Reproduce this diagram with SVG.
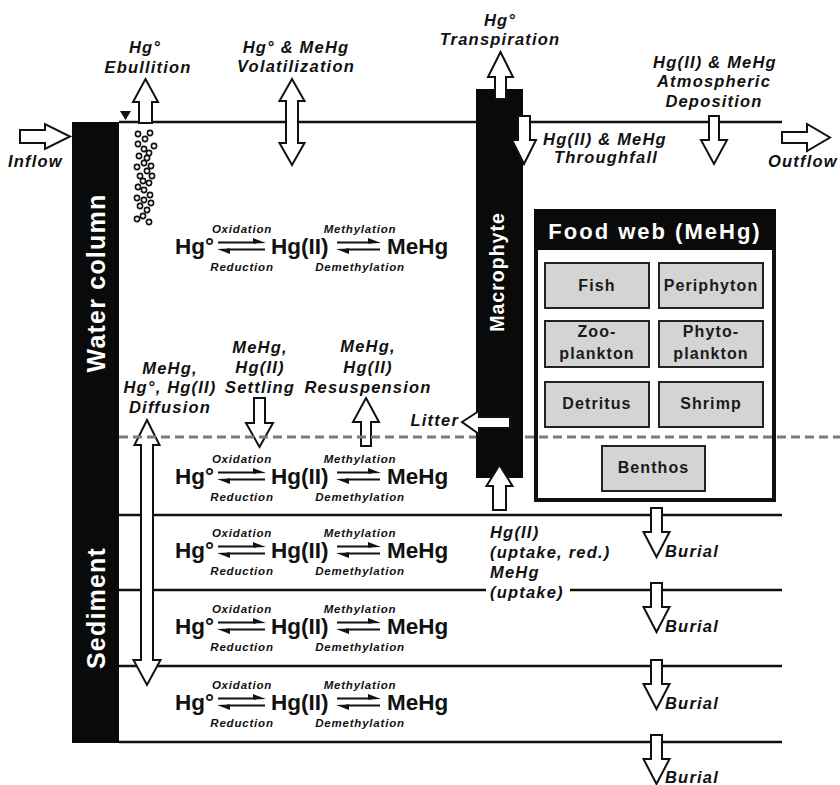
<svg xmlns="http://www.w3.org/2000/svg" width="840" height="785" viewBox="0 0 840 785">
<style>
text{font-family:"Liberation Sans",Arial,sans-serif;font-weight:bold;fill:#111}
.lab{font-style:italic;font-size:16.5px;letter-spacing:1.2px;text-anchor:middle}
.sm{font-style:italic;font-size:11.5px;letter-spacing:0.8px;text-anchor:middle}
.hg{font-size:22.5px}
.fw{font-size:16px;letter-spacing:1.1px;text-anchor:middle;fill:#1a1a1a}
.bar{fill:#0a0a0a}
.ln{stroke:#111;stroke-width:2.5;fill:none}
.ar{fill:#fff;stroke:#111;stroke-width:2;stroke-linejoin:miter}
.bub{fill:#fff;stroke:#111;stroke-width:1.6}
.rx{stroke:#111;stroke-width:2}
.hd{fill:#111}
.box{fill:#d4d4d4;stroke:#222;stroke-width:2}
</style>
<defs>
<g id="rxn">
<text class="hg" x="175" y="0">Hg°</text>
<text class="hg" x="271" y="0">Hg(II)</text>
<text class="hg" x="387" y="0">MeHg</text>
<text class="sm" x="242" y="-21">Oxidation</text>
<text class="sm" x="242" y="17">Reduction</text>
<text class="sm" x="360" y="-21">Methylation</text>
<text class="sm" x="360" y="17">Demethylation</text>
<line class="rx" x1="218" y1="-11.5" x2="256" y2="-11.5"/>
<path class="hd" d="M266,-11 L253,-16 L253,-10.5 Z"/>
<line class="rx" x1="227" y1="-4.5" x2="265" y2="-4.5"/>
<path class="hd" d="M217,-5 L230,-5.5 L230,0 Z"/>
<line class="rx" x1="337" y1="-11.5" x2="372" y2="-11.5"/>
<path class="hd" d="M381,-11 L368,-16 L368,-10.5 Z"/>
<line class="rx" x1="346" y1="-4.5" x2="380" y2="-4.5"/>
<path class="hd" d="M336,-5 L349,-5.5 L349,0 Z"/>
</g>
<path id="burial" class="ar" d="M651,0 L662,0 L662,24 L669.5,24 L656.5,49 L643.5,24 L651,24 Z"/>
</defs>

<!-- boundary lines -->
<g id="layers">
<line class="ln" x1="119" y1="122" x2="782" y2="122"/>
<line class="ln" x1="119" y1="515" x2="782" y2="515"/>
<line class="ln" x1="119" y1="590" x2="486" y2="590"/>
<line class="ln" x1="570" y1="590" x2="782" y2="590"/>
<line class="ln" x1="119" y1="666" x2="782" y2="666"/>
<line class="ln" x1="119" y1="742" x2="782" y2="742"/>
<path d="M120,111 L131,111 L125.5,120 Z" fill="#111"/>
</g>

<g id="bubbles">
<circle class="bub" cx="138" cy="134" r="2.6"/><circle class="bub" cx="150" cy="133" r="2.6"/>
<circle class="bub" cx="145" cy="139" r="2.6"/><circle class="bub" cx="138" cy="144" r="2.6"/>
<circle class="bub" cx="154" cy="146" r="2.6"/><circle class="bub" cx="144" cy="149" r="2.6"/>
<circle class="bub" cx="149" cy="153" r="2.6"/><circle class="bub" cx="139" cy="156" r="2.6"/>
<circle class="bub" cx="147" cy="158" r="2.6"/><circle class="bub" cx="144" cy="163" r="2.6"/>
<circle class="bub" cx="137" cy="167" r="2.6"/><circle class="bub" cx="151" cy="166" r="2.6"/>
<circle class="bub" cx="147" cy="171" r="2.6"/><circle class="bub" cx="140" cy="176" r="2.6"/>
<circle class="bub" cx="152" cy="176" r="2.6"/><circle class="bub" cx="143" cy="181" r="2.6"/>
<circle class="bub" cx="149" cy="183" r="2.6"/><circle class="bub" cx="138" cy="187" r="2.6"/>
<circle class="bub" cx="144" cy="190" r="2.6"/><circle class="bub" cx="150" cy="195" r="2.6"/>
<circle class="bub" cx="137" cy="198" r="2.6"/><circle class="bub" cx="144" cy="200" r="2.6"/>
<circle class="bub" cx="151" cy="203" r="2.6"/><circle class="bub" cx="140" cy="206" r="2.6"/>
<circle class="bub" cx="147" cy="210" r="2.6"/><circle class="bub" cx="143" cy="216" r="2.6"/>
<circle class="bub" cx="137" cy="219" r="2.6"/><circle class="bub" cx="149" cy="222" r="2.6"/>
</g>

<!-- food web -->
<g id="foodweb">
<rect x="536" y="211" width="238" height="289" fill="#fff" stroke="#111" stroke-width="4"/>
<rect x="534" y="209" width="242" height="41" fill="#0a0a0a"/>
<text x="655" y="239" style="font-size:22px;letter-spacing:2px;text-anchor:middle;fill:#fff">Food web (MeHg)</text>
</g>
<g id="fw-fish"><rect class="box" x="545" y="263" width="104" height="45"/><text class="fw" x="597" y="291">Fish</text></g>
<g id="fw-periphyton"><rect class="box" x="659" y="263" width="104" height="45"/><text class="fw" x="711" y="291">Periphyton</text></g>
<g id="fw-zooplankton"><rect class="box" x="545" y="321" width="104" height="46"/><text class="fw" x="597" y="337">Zoo-</text><text class="fw" x="597" y="359">plankton</text></g>
<g id="fw-phytoplankton"><rect class="box" x="659" y="321" width="104" height="46"/><text class="fw" x="711" y="337">Phyto-</text><text class="fw" x="711" y="359">plankton</text></g>
<g id="fw-detritus"><rect class="box" x="545" y="382" width="104" height="45"/><text class="fw" x="597" y="409">Detritus</text></g>
<g id="fw-shrimp"><rect class="box" x="659" y="382" width="104" height="45"/><text class="fw" x="711" y="409">Shrimp</text></g>
<g id="fw-benthos"><rect class="box" x="602" y="446" width="103" height="45"/><text class="fw" x="653.5" y="473">Benthos</text></g>

<!-- reactions -->
<g id="reactions">
<use href="#rxn" y="254"/>
<use href="#rxn" y="484"/>
<use href="#rxn" y="558"/>
<use href="#rxn" y="634"/>
<use href="#rxn" y="710"/>
</g>

<!-- connectors -->
<g id="connectors">
<path class="ar" d="M20,130 L45,130 L45,124 L70,136.5 L45,149 L45,143 L20,143 Z"/>
<path class="ar" d="M782,132 L807,132 L807,124 L830,137.5 L807,151 L807,143 L782,143 Z"/>
<path class="ar" d="M145.5,79 L158,102 L152,102 L152,123 L139,123 L139,102 L133,102 Z"/>
<path class="ar" d="M292,79 L304.5,101 L298,101 L298,143 L304.5,143 L292,165 L279.5,143 L286,143 L286,101 L279.5,101 Z"/>
<path class="ar" d="M709,116 L719,116 L719,140 L727,140 L714,164 L701,140 L709,140 Z"/>
<path class="ar" d="M254,398 L265,398 L265,423 L273,423 L259.5,447 L246,423 L254,423 Z"/>
<path class="ar" d="M366,398 L379,422 L371,422 L371,446 L361,446 L361,422 L353,422 Z"/>
<path class="ar" d="M147,420 L159.5,445 L153,445 L153,660 L160.5,660 L147,685 L133.5,660 L141,660 L141,445 L134.5,445 Z"/>
<use href="#burial" y="508"/>
<use href="#burial" y="583"/>
<use href="#burial" y="660"/>
<use href="#burial" y="735"/>
</g>

<line id="interface" x1="119" y1="437" x2="840" y2="437" stroke="#7a7a7a" stroke-width="3" stroke-dasharray="9 5"/>

<g id="sidebar">
<rect class="bar" x="72" y="122" width="47" height="621"/>
<text transform="translate(105,283) rotate(-90)" style="font-size:25px;letter-spacing:1.2px;text-anchor:middle;fill:#fff">Water column</text>
<text transform="translate(105,608) rotate(-90)" style="font-size:25px;letter-spacing:1.2px;text-anchor:middle;fill:#fff">Sediment</text>
</g>

<g id="macrophyte">
<rect class="bar" x="476" y="89" width="47" height="389"/>
<text transform="translate(504,272) rotate(-90)" style="font-size:19.5px;letter-spacing:1px;text-anchor:middle;fill:#fff">Macrophyte</text>
</g>

<g id="macrophyte-connectors">
<path class="ar" d="M500.5,52 L513,77 L506,77 L506,99 L495,99 L495,77 L488,77 Z"/>
<path class="ar" d="M518,116 L530,116 L530,140 L536,140 L524,164 L512,140 L518,140 Z"/>
<path class="ar" d="M462,422 L479,411 L479,417 L510,417 L510,428 L479,428 L479,434 Z"/>
<path class="ar" d="M499.5,465 L512.5,486 L506,486 L506,510 L493,510 L493,486 L486.5,486 Z"/>
</g>

<g id="labels">
<text class="lab" x="145" y="53">Hg°</text>
<text class="lab" x="148" y="73">Ebullition</text>
<text class="lab" x="296" y="53">Hg° &amp; MeHg</text>
<text class="lab" x="296" y="72">Volatilization</text>
<text class="lab" x="500" y="26">Hg°</text>
<text class="lab" x="500" y="45">Transpiration</text>
<text class="lab" x="605" y="145">Hg(II) &amp; MeHg</text>
<text class="lab" x="606" y="163">Throughfall</text>
<text class="lab" x="715" y="68">Hg(II) &amp; MeHg</text>
<text class="lab" x="714" y="87">Atmospheric</text>
<text class="lab" x="714" y="107">Deposition</text>
<text class="lab" x="8" y="167" style="text-anchor:start">Inflow</text>
<text class="lab" x="768" y="167" style="text-anchor:start">Outflow</text>
<text class="lab" x="170" y="374">MeHg,</text>
<text class="lab" x="170" y="393">Hg°, Hg(II)</text>
<text class="lab" x="170" y="413">Diffusion</text>
<text class="lab" x="260" y="353">MeHg,</text>
<text class="lab" x="260" y="373">Hg(II)</text>
<text class="lab" x="260" y="393">Settling</text>
<text class="lab" x="368" y="352">MeHg,</text>
<text class="lab" x="368" y="373">Hg(II)</text>
<text class="lab" x="368" y="393">Resuspension</text>
<text class="lab" x="459" y="426" style="text-anchor:end">Litter</text>
<text class="lab" x="490" y="538" style="text-anchor:start">Hg(II)</text>
<text class="lab" x="490" y="558" style="text-anchor:start">(uptake, red.)</text>
<text class="lab" x="490" y="578" style="text-anchor:start">MeHg</text>
<text class="lab" x="490" y="598" style="text-anchor:start">(uptake)</text>
<text class="lab" x="665" y="557" style="text-anchor:start">Burial</text>
<text class="lab" x="665" y="632" style="text-anchor:start">Burial</text>
<text class="lab" x="665" y="709" style="text-anchor:start">Burial</text>
<text class="lab" x="665" y="783" style="text-anchor:start">Burial</text>
</g>
</svg>
